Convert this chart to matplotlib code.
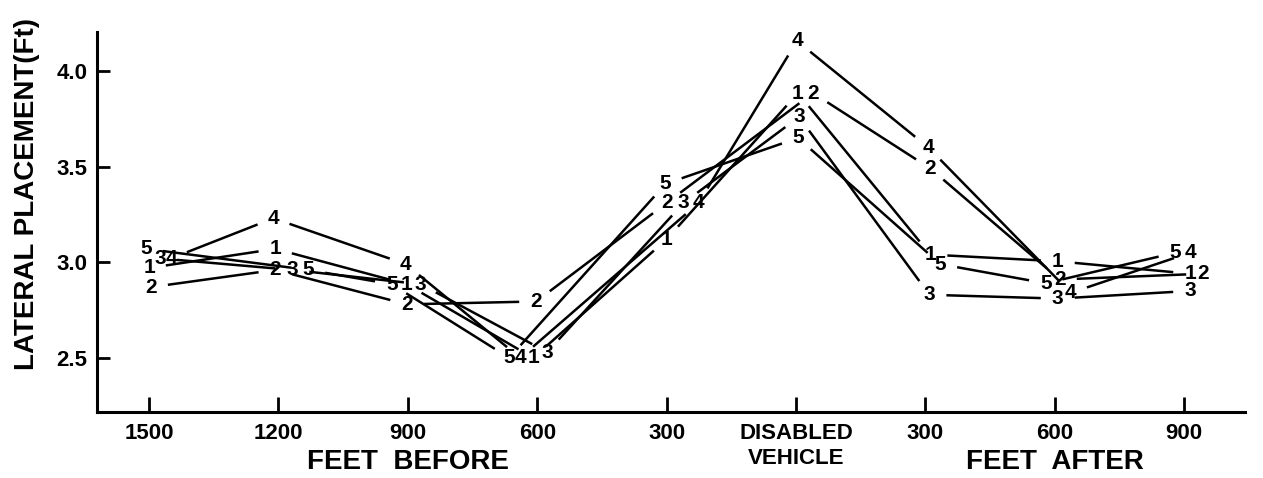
import numpy as np
import matplotlib.pyplot as plt
from matplotlib import transforms

plt.rcParams['font.family'] = ['Liberation Sans', 'DejaVu Sans']

# data
x_labels = ['1500', '1200', '900', '600', '300', 'DISABLED\nVEHICLE', '300', '600', '900']
y_ticks = [2.5, 3.0, 3.5, 4.0]
series_names = ['1', '2', '3', '4', '5']
s1 = [2.97, 3.07, 2.885, 2.50, 3.12, 3.885, 3.04, 3.005, 2.94]
s2 = [2.87, 2.96, 2.78, 2.795, 3.31, 3.885, 3.49, 2.91, 2.94]
s3 = [3.02, 2.96, 2.885, 2.53, 3.31, 3.76, 2.83, 2.81, 2.85]
s4 = [3.02, 3.23, 2.99, 2.50, 3.31, 4.157, 3.60, 2.84, 3.05]
s5 = [3.07, 2.96, 2.885, 2.50, 3.41, 3.65, 2.99, 2.89, 3.05]
series = [s1, s2, s3, s4, s5]

# horizontal nudge of each digit label (pixels) so groups sit side by side
label_dx = [
    [0, -3, -1, -4, 0, 2, 5, 3, 6],
    [2, -3, -1, -1, 0, 17, 5, 5, 19],
    [11, 14, 13, 10, 17, 3, 4, 3, 6],
    [22, -5, -2, -17, 32, 1, 3, 16, 6],
    [-3, 30, -16, -28, -1, 2, 15, -9, -9],
]

W, H = 1263, 478
fig = plt.figure(figsize=(W / 100, H / 100), dpi=100)
ax = fig.add_axes([97 / W, 1 - 412 / H, (1245 - 97) / W, (412 - 32) / H])
ax.set_xlim(-0.402, 8.47)
ax.set_ylim(2.217, 4.204)

for side in ['top', 'right']:
    ax.spines[side].set_visible(False)
for side in ['left', 'bottom']:
    ax.spines[side].set_linewidth(2.2)

ax.set_xticks(range(len(x_labels)))
ax.set_xticklabels(x_labels, fontsize=16, fontweight='bold', linespacing=1.25)
ax.set_yticks(y_ticks)
ax.set_yticklabels(['%.1f' % t for t in y_ticks], fontsize=16, fontweight='bold')
ax.tick_params(axis='x', direction='in', length=11, width=2, pad=8)
ax.tick_params(axis='y', direction='in', length=9, width=2, pad=7)

# lines between labels, with a gap around each digit
gap = 17
to_disp = ax.transData
to_data = ax.transData.inverted()
for k, vals in enumerate(series):
    pts = [to_disp.transform((i, v)) + np.array([label_dx[k][i], 0.0])
           for i, v in enumerate(vals)]
    for i in range(len(pts) - 1):
        p0, p1 = pts[i], pts[i + 1]
        u = (p1 - p0) / np.linalg.norm(p1 - p0)
        a = to_data.transform(p0 + u * gap)
        b = to_data.transform(p1 - u * gap)
        ax.plot([a[0], b[0]], [a[1], b[1]], color='black', lw=1.8,
                solid_capstyle='butt')
    for i, v in enumerate(vals):
        ax.annotate(series_names[k], xy=(i, v), xytext=(label_dx[k][i] * 0.72, 0),
                    textcoords='offset points', ha='center', va='center',
                    fontsize=15, fontweight='bold')

fig.text(27 / W, 1 - 194 / H, 'LATERAL PLACEMENT(Ft)', rotation=90,
         ha='center', va='center', fontsize=20, fontweight='bold')
blend = transforms.blended_transform_factory(ax.transData, fig.transFigure)
ax.text(2, 1 - 462 / H, 'FEET  BEFORE', transform=blend, ha='center', va='center',
        fontsize=20, fontweight='bold')
ax.text(7, 1 - 462 / H, 'FEET  AFTER', transform=blend, ha='center', va='center',
        fontsize=20, fontweight='bold')

fig.savefig('out.png', dpi=100)
